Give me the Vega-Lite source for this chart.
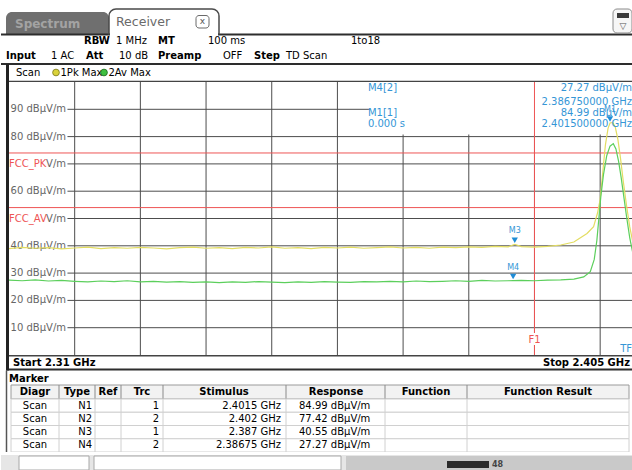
{
"$schema": "https://vega.github.io/schema/vega-lite/v6.json",
"padding": 0,
"spacing": 0,
"bounds": "flush",
"background": "white",
"resolve": {"scale": {"x": "independent", "y": "independent", "color": "independent"}},
"config": {
  "font": "DejaVu Sans",
  "view": {"stroke": null, "fill": "white"},
  "axis": {"disable": true},
  "legend": {"disable": true},
  "concat": {"spacing": 0},
  "text": {"align": "left", "baseline": "middle", "fontSize": 10},
  "style": {
    "lab": {"fontWeight": "bold", "fill": "#262626"},
    "val": {"fill": "#6a6a6a"},
    "tcell": {"fill": "#7a7a7a", "fontSize": 9.5},
    "thead": {"fontWeight": "bold", "fill": "#262626", "fontSize": 9.5, "align": "center"}
  }
},
"datasets": {
  "one": [{}],
  "markers": [
    {"m": "M1", "diagr": "Scan", "type": "N1", "trc": 1, "f": 2.4015, "level": 84.99, "stimulus": "2.4015 GHz", "response": "84.99 dBµV/m"},
    {"m": "M2", "diagr": "Scan", "type": "N2", "trc": 2, "f": 2.402, "level": 77.42, "stimulus": "2.402 GHz", "response": "77.42 dBµV/m"},
    {"m": "M3", "diagr": "Scan", "type": "N3", "trc": 1, "f": 2.387, "level": 40.55, "stimulus": "2.387 GHz", "response": "40.55 dBµV/m"},
    {"m": "M4", "diagr": "Scan", "type": "N4", "trc": 2, "f": 2.38675, "level": 27.27, "stimulus": "2.38675 GHz", "response": "27.27 dBµV/m"}
  ],
  "traces": [
    {"trace": "1Pk Max", "f": 2.310, "level": 39.0},
    {"trace": "1Pk Max", "f": 2.312, "level": 39.4},
    {"trace": "1Pk Max", "f": 2.314, "level": 39.1},
    {"trace": "1Pk Max", "f": 2.316, "level": 39.3},
    {"trace": "1Pk Max", "f": 2.318, "level": 38.9},
    {"trace": "1Pk Max", "f": 2.320, "level": 39.2},
    {"trace": "1Pk Max", "f": 2.322, "level": 39.5},
    {"trace": "1Pk Max", "f": 2.324, "level": 39.0},
    {"trace": "1Pk Max", "f": 2.326, "level": 39.3},
    {"trace": "1Pk Max", "f": 2.328, "level": 39.1},
    {"trace": "1Pk Max", "f": 2.330, "level": 39.4},
    {"trace": "1Pk Max", "f": 2.332, "level": 39.2},
    {"trace": "1Pk Max", "f": 2.334, "level": 38.9},
    {"trace": "1Pk Max", "f": 2.336, "level": 39.3},
    {"trace": "1Pk Max", "f": 2.338, "level": 39.5},
    {"trace": "1Pk Max", "f": 2.340, "level": 39.1},
    {"trace": "1Pk Max", "f": 2.342, "level": 39.3},
    {"trace": "1Pk Max", "f": 2.344, "level": 39.0},
    {"trace": "1Pk Max", "f": 2.346, "level": 39.4},
    {"trace": "1Pk Max", "f": 2.348, "level": 39.2},
    {"trace": "1Pk Max", "f": 2.350, "level": 39.6},
    {"trace": "1Pk Max", "f": 2.352, "level": 39.1},
    {"trace": "1Pk Max", "f": 2.354, "level": 39.3},
    {"trace": "1Pk Max", "f": 2.356, "level": 39.0},
    {"trace": "1Pk Max", "f": 2.358, "level": 39.4},
    {"trace": "1Pk Max", "f": 2.360, "level": 39.2},
    {"trace": "1Pk Max", "f": 2.362, "level": 39.5},
    {"trace": "1Pk Max", "f": 2.364, "level": 39.1},
    {"trace": "1Pk Max", "f": 2.366, "level": 39.3},
    {"trace": "1Pk Max", "f": 2.368, "level": 39.6},
    {"trace": "1Pk Max", "f": 2.370, "level": 39.2},
    {"trace": "1Pk Max", "f": 2.372, "level": 39.4},
    {"trace": "1Pk Max", "f": 2.374, "level": 39.1},
    {"trace": "1Pk Max", "f": 2.376, "level": 39.5},
    {"trace": "1Pk Max", "f": 2.378, "level": 39.3},
    {"trace": "1Pk Max", "f": 2.380, "level": 39.6},
    {"trace": "1Pk Max", "f": 2.382, "level": 39.4},
    {"trace": "1Pk Max", "f": 2.384, "level": 39.8},
    {"trace": "1Pk Max", "f": 2.386, "level": 39.6},
    {"trace": "1Pk Max", "f": 2.387, "level": 40.55},
    {"trace": "1Pk Max", "f": 2.388, "level": 39.7},
    {"trace": "1Pk Max", "f": 2.390, "level": 39.5},
    {"trace": "1Pk Max", "f": 2.392, "level": 39.8},
    {"trace": "1Pk Max", "f": 2.394, "level": 40.3},
    {"trace": "1Pk Max", "f": 2.396, "level": 41.4},
    {"trace": "1Pk Max", "f": 2.398, "level": 44.5},
    {"trace": "1Pk Max", "f": 2.399, "level": 47},
    {"trace": "1Pk Max", "f": 2.3996, "level": 52},
    {"trace": "1Pk Max", "f": 2.4000, "level": 57},
    {"trace": "1Pk Max", "f": 2.4004, "level": 67},
    {"trace": "1Pk Max", "f": 2.4008, "level": 77},
    {"trace": "1Pk Max", "f": 2.4012, "level": 83},
    {"trace": "1Pk Max", "f": 2.4015, "level": 84.99},
    {"trace": "1Pk Max", "f": 2.4019, "level": 85.2},
    {"trace": "1Pk Max", "f": 2.4023, "level": 83.5},
    {"trace": "1Pk Max", "f": 2.4027, "level": 79},
    {"trace": "1Pk Max", "f": 2.4031, "level": 72},
    {"trace": "1Pk Max", "f": 2.4035, "level": 64},
    {"trace": "1Pk Max", "f": 2.4040, "level": 55},
    {"trace": "1Pk Max", "f": 2.4045, "level": 47},
    {"trace": "1Pk Max", "f": 2.4050, "level": 41},
    {"trace": "2Av Max", "f": 2.310, "level": 27.4},
    {"trace": "2Av Max", "f": 2.312, "level": 27.2},
    {"trace": "2Av Max", "f": 2.314, "level": 27.5},
    {"trace": "2Av Max", "f": 2.316, "level": 27.1},
    {"trace": "2Av Max", "f": 2.318, "level": 27.3},
    {"trace": "2Av Max", "f": 2.320, "level": 27.0},
    {"trace": "2Av Max", "f": 2.322, "level": 26.8},
    {"trace": "2Av Max", "f": 2.324, "level": 27.1},
    {"trace": "2Av Max", "f": 2.326, "level": 26.9},
    {"trace": "2Av Max", "f": 2.328, "level": 27.2},
    {"trace": "2Av Max", "f": 2.330, "level": 26.8},
    {"trace": "2Av Max", "f": 2.332, "level": 27.0},
    {"trace": "2Av Max", "f": 2.334, "level": 26.7},
    {"trace": "2Av Max", "f": 2.336, "level": 26.9},
    {"trace": "2Av Max", "f": 2.338, "level": 26.6},
    {"trace": "2Av Max", "f": 2.340, "level": 26.8},
    {"trace": "2Av Max", "f": 2.342, "level": 26.5},
    {"trace": "2Av Max", "f": 2.344, "level": 26.8},
    {"trace": "2Av Max", "f": 2.346, "level": 26.6},
    {"trace": "2Av Max", "f": 2.348, "level": 26.9},
    {"trace": "2Av Max", "f": 2.350, "level": 26.7},
    {"trace": "2Av Max", "f": 2.352, "level": 26.5},
    {"trace": "2Av Max", "f": 2.354, "level": 26.8},
    {"trace": "2Av Max", "f": 2.356, "level": 26.6},
    {"trace": "2Av Max", "f": 2.358, "level": 26.9},
    {"trace": "2Av Max", "f": 2.360, "level": 26.7},
    {"trace": "2Av Max", "f": 2.362, "level": 26.6},
    {"trace": "2Av Max", "f": 2.364, "level": 26.9},
    {"trace": "2Av Max", "f": 2.366, "level": 26.8},
    {"trace": "2Av Max", "f": 2.368, "level": 27.0},
    {"trace": "2Av Max", "f": 2.370, "level": 26.8},
    {"trace": "2Av Max", "f": 2.372, "level": 27.1},
    {"trace": "2Av Max", "f": 2.374, "level": 26.9},
    {"trace": "2Av Max", "f": 2.376, "level": 27.0},
    {"trace": "2Av Max", "f": 2.378, "level": 27.2},
    {"trace": "2Av Max", "f": 2.380, "level": 27.0},
    {"trace": "2Av Max", "f": 2.382, "level": 27.3},
    {"trace": "2Av Max", "f": 2.384, "level": 27.1},
    {"trace": "2Av Max", "f": 2.386, "level": 27.2},
    {"trace": "2Av Max", "f": 2.38675, "level": 27.27},
    {"trace": "2Av Max", "f": 2.388, "level": 27.3},
    {"trace": "2Av Max", "f": 2.390, "level": 27.2},
    {"trace": "2Av Max", "f": 2.392, "level": 27.4},
    {"trace": "2Av Max", "f": 2.394, "level": 27.5},
    {"trace": "2Av Max", "f": 2.396, "level": 27.8},
    {"trace": "2Av Max", "f": 2.3975, "level": 28.6},
    {"trace": "2Av Max", "f": 2.3985, "level": 30.5},
    {"trace": "2Av Max", "f": 2.3991, "level": 35},
    {"trace": "2Av Max", "f": 2.3995, "level": 42},
    {"trace": "2Av Max", "f": 2.3998, "level": 50},
    {"trace": "2Av Max", "f": 2.4001, "level": 58},
    {"trace": "2Av Max", "f": 2.4005, "level": 66},
    {"trace": "2Av Max", "f": 2.4010, "level": 73},
    {"trace": "2Av Max", "f": 2.4015, "level": 76.5},
    {"trace": "2Av Max", "f": 2.4020, "level": 77.42},
    {"trace": "2Av Max", "f": 2.4024, "level": 75.5},
    {"trace": "2Av Max", "f": 2.4028, "level": 71},
    {"trace": "2Av Max", "f": 2.4032, "level": 65},
    {"trace": "2Av Max", "f": 2.4036, "level": 58},
    {"trace": "2Av Max", "f": 2.4040, "level": 51},
    {"trace": "2Av Max", "f": 2.4045, "level": 43},
    {"trace": "2Av Max", "f": 2.4050, "level": 37}
  ]
},
"vconcat": [
  {
    "width": 632, "height": 82,
    "data": {"name": "one"},
    "layer": [
      {"mark": {"type": "rect", "fill": "#6f6f6f", "cornerRadiusTopLeft": 6, "cornerRadiusTopRight": 6},
       "encoding": {"x": {"datum": 5, "type": "quantitative", "scale": {"domain": [0, 632], "nice": false, "zero": false}}, "x2": {"datum": 108},
                    "y": {"datum": 12, "type": "quantitative", "scale": {"domain": [0, 82], "reverse": true, "nice": false, "zero": false}}, "y2": {"datum": 34}}},
      {"mark": {"type": "text", "text": "Spectrum", "fill": "#a3a3a3", "fontWeight": "bold", "fontSize": 12}, "encoding": {"x": {"datum": 14}, "y": {"datum": 23.5}}},
      {"mark": {"type": "rule", "stroke": "#2d2d2d", "strokeWidth": 2}, "encoding": {"x": {"datum": 0}, "x2": {"datum": 632}, "y": {"datum": 34.5}}},
      {"mark": {"type": "rect", "fill": "white", "stroke": "#4a4a4a", "strokeWidth": 1.5, "cornerRadiusTopLeft": 7, "cornerRadiusTopRight": 7},
       "encoding": {"x": {"datum": 108}, "x2": {"datum": 218}, "y": {"datum": 9}, "y2": {"datum": 34}}},
      {"mark": {"type": "rule", "stroke": "white", "strokeWidth": 3}, "encoding": {"x": {"datum": 109}, "x2": {"datum": 217}, "y": {"datum": 34.5}}},
      {"mark": {"type": "text", "text": "Receiver", "fill": "#6a6a6a", "fontSize": 12.5}, "encoding": {"x": {"datum": 115}, "y": {"datum": 22}}},
      {"mark": {"type": "rect", "fill": "white", "stroke": "#6a6a6a", "strokeWidth": 1, "cornerRadius": 3}, "encoding": {"x": {"datum": 195}, "x2": {"datum": 208}, "y": {"datum": 15.5}, "y2": {"datum": 28}}},
      {"mark": {"type": "text", "text": "x", "align": "center", "fill": "#555555", "fontSize": 9}, "encoding": {"x": {"datum": 201.5}, "y": {"datum": 21.3}}},
      {"mark": {"type": "rect", "fill": "#f6f6f6", "stroke": "#8a8a8a", "strokeWidth": 1, "cornerRadius": 4}, "encoding": {"x": {"datum": 612}, "x2": {"datum": 631}, "y": {"datum": 9}, "y2": {"datum": 33}}},
      {"mark": {"type": "rect", "fill": "#3a3a3a"}, "encoding": {"x": {"datum": 616}, "x2": {"datum": 628}, "y": {"datum": 13}, "y2": {"datum": 18}}},
      {"mark": {"type": "text", "text": "▽", "align": "center", "fill": "#555555", "fontSize": 9}, "encoding": {"x": {"datum": 622}, "y": {"datum": 25.5}}},
      {"mark": {"type": "text", "style": "lab", "text": "RBW"}, "encoding": {"x": {"datum": 83}, "y": {"datum": 41}}},
      {"mark": {"type": "text", "style": "lab", "text": "MT"}, "encoding": {"x": {"datum": 157}, "y": {"datum": 41}}},
      {"mark": {"type": "text", "style": "val", "text": "1 MHz"}, "encoding": {"x": {"datum": 115}, "y": {"datum": 41}}},
      {"mark": {"type": "text", "style": "val", "text": "100 ms"}, "encoding": {"x": {"datum": 207}, "y": {"datum": 41}}},
      {"mark": {"type": "text", "style": "val", "text": "1to18"}, "encoding": {"x": {"datum": 350}, "y": {"datum": 41}}},
      {"mark": {"type": "text", "style": "lab", "text": "Input"}, "encoding": {"x": {"datum": 5}, "y": {"datum": 56}}},
      {"mark": {"type": "text", "style": "lab", "text": "Att"}, "encoding": {"x": {"datum": 85}, "y": {"datum": 56}}},
      {"mark": {"type": "text", "style": "lab", "text": "Preamp"}, "encoding": {"x": {"datum": 157}, "y": {"datum": 56}}},
      {"mark": {"type": "text", "style": "lab", "text": "Step"}, "encoding": {"x": {"datum": 253}, "y": {"datum": 56}}},
      {"mark": {"type": "text", "style": "val", "text": "1 AC"}, "encoding": {"x": {"datum": 50}, "y": {"datum": 56}}},
      {"mark": {"type": "text", "style": "val", "text": "10 dB"}, "encoding": {"x": {"datum": 118}, "y": {"datum": 56}}},
      {"mark": {"type": "text", "style": "val", "text": "OFF"}, "encoding": {"x": {"datum": 222}, "y": {"datum": 56}}},
      {"mark": {"type": "text", "style": "val", "text": "TD Scan"}, "encoding": {"x": {"datum": 285}, "y": {"datum": 56}}},
      {"mark": {"type": "rule", "stroke": "#2d2d2d", "strokeWidth": 2}, "encoding": {"x": {"datum": 0}, "x2": {"datum": 632}, "y": {"datum": 64}}},
      {"mark": {"type": "text", "style": "val", "text": "Scan"}, "encoding": {"x": {"datum": 15}, "y": {"datum": 72.5}}},
      {"mark": {"type": "point", "shape": "circle", "filled": true, "fill": "#d9d23a", "stroke": "#8c8a2a", "strokeWidth": 1, "size": 45, "opacity": 1}, "encoding": {"x": {"datum": 55}, "y": {"datum": 72.5}}},
      {"mark": {"type": "text", "style": "val", "text": "1Pk Max"}, "encoding": {"x": {"datum": 59.5}, "y": {"datum": 72.5}}},
      {"mark": {"type": "point", "shape": "circle", "filled": true, "fill": "#3fc03f", "stroke": "#2a7a2a", "strokeWidth": 1, "size": 45, "opacity": 1}, "encoding": {"x": {"datum": 103}, "y": {"datum": 72.5}}},
      {"mark": {"type": "text", "style": "val", "text": "2Av Max"}, "encoding": {"x": {"datum": 107.5}, "y": {"datum": 72.5}}},
      {"mark": {"type": "rule", "stroke": "#444444", "strokeWidth": 1.5}, "encoding": {"x": {"datum": 5}, "x2": {"datum": 632}, "y": {"datum": 81.5}}},
      {"mark": {"type": "rule", "stroke": "#222222", "strokeWidth": 3}, "encoding": {"x": {"datum": 6.5}, "y": {"datum": 64}, "y2": {"datum": 82}}}
    ]
  },
  {
    "width": 632, "height": 273,
    "data": {"name": "one"},
    "layer": [
      {"data": {"values": [{"f": 2.32}, {"f": 2.33}, {"f": 2.34}, {"f": 2.35}, {"f": 2.36}, {"f": 2.37}, {"f": 2.38}, {"f": 2.39}, {"f": 2.40}]},
       "mark": {"type": "rule", "stroke": "#4d4d4d", "strokeWidth": 1},
       "encoding": {"x": {"field": "f", "type": "quantitative", "scale": {"domain": [2.308782, 2.405], "nice": false, "zero": false}}}},
      {"data": {"values": [{"v": 10}, {"v": 20}, {"v": 30}, {"v": 40}, {"v": 50}, {"v": 60}, {"v": 70}, {"v": 80}, {"v": 90}]},
       "mark": {"type": "rule", "stroke": "#4d4d4d", "strokeWidth": 1},
       "encoding": {"x": {"datum": 2.3189}, "x2": {"datum": 2.405}, "y": {"field": "v", "type": "quantitative", "scale": {"domain": [0, 100], "nice": false, "zero": false}}}},
      {"mark": {"type": "rect", "fill": "white"}, "encoding": {"x": {"datum": 2.365}, "x2": {"datum": 2.405}, "y": {"datum": 80.8}, "y2": {"datum": 100}}},
      {"data": {"values": [{"limit": "FCC_PK", "v": 74}, {"limit": "FCC_AV", "v": 54}]},
       "layer": [
         {"mark": {"type": "rule", "stroke": "#ee5555", "strokeWidth": 1}, "encoding": {"x": {"datum": 2.31}, "x2": {"datum": 2.405}, "y": {"field": "v", "type": "quantitative"}}},
         {"mark": {"type": "text", "fill": "#ee5555", "fontSize": 10, "dy": 11}, "encoding": {"x": {"datum": 2.31}, "y": {"field": "v", "type": "quantitative"}, "text": {"field": "limit"}}}
       ]},
      {"mark": {"type": "rule", "stroke": "#ee5555", "strokeWidth": 1}, "encoding": {"x": {"datum": 2.39}}},
      {"data": {"values": [{"v": 90, "label": "90 dBµV/m"}, {"v": 80, "label": "80 dBµV/m"}, {"v": 70, "label": "V/m"}, {"v": 60, "label": "60 dBµV/m"}, {"v": 50, "label": "V/m"}, {"v": 40, "label": "40 dBµV/m"}, {"v": 30, "label": "30 dBµV/m"}, {"v": 20, "label": "20 dBµV/m"}, {"v": 10, "label": "10 dBµV/m"}]},
       "mark": {"type": "text", "align": "right", "fill": "#666666", "fontSize": 10},
       "encoding": {"x": {"datum": 2.31868}, "y": {"field": "v", "type": "quantitative"}, "text": {"field": "label"}}},
      {"data": {"name": "traces"},
       "mark": {"type": "line", "strokeWidth": 1.2},
       "encoding": {"x": {"field": "f", "type": "quantitative"}, "y": {"field": "level", "type": "quantitative"},
                    "color": {"field": "trace", "type": "nominal", "scale": {"domain": ["1Pk Max", "2Av Max"], "range": ["#e3dd62", "#5ccf5c"]}, "legend": null}}},
      {"data": {"name": "markers"},
       "transform": [{"filter": "datum.m != 'M2'"}],
       "encoding": {"x": {"field": "f", "type": "quantitative"}, "y": {"field": "level", "type": "quantitative"}},
       "layer": [
         {"mark": {"type": "point", "shape": "triangle-down", "filled": true, "fill": "#1f8dd6", "size": 40, "yOffset": -4, "opacity": 1}},
         {"mark": {"type": "text", "align": "center", "dy": -13, "fontSize": 8, "fill": "#3596d6"}, "encoding": {"text": {"field": "m"}}}
       ]},
      {"mark": {"type": "text", "fill": "#3596d6", "text": "M4[2]"}, "encoding": {"x": {"datum": 2.36465}, "y": {"datum": 97.8}}},
      {"mark": {"type": "text", "fill": "#3596d6", "text": "27.27 dBµV/m", "align": "right"}, "encoding": {"x": {"datum": 2.40485}, "y": {"datum": 97.8}}},
      {"mark": {"type": "text", "fill": "#3596d6", "text": "2.386750000 GHz", "align": "right"}, "encoding": {"x": {"datum": 2.40485}, "y": {"datum": 92.8}}},
      {"mark": {"type": "text", "fill": "#3596d6", "text": "M1[1]"}, "encoding": {"x": {"datum": 2.36465}, "y": {"datum": 88.75}}},
      {"mark": {"type": "text", "fill": "#3596d6", "text": "84.99 dBµV/m", "align": "right"}, "encoding": {"x": {"datum": 2.40485}, "y": {"datum": 88.75}}},
      {"mark": {"type": "text", "fill": "#3596d6", "text": "0.000 s"}, "encoding": {"x": {"datum": 2.36465}, "y": {"datum": 84.5}}},
      {"mark": {"type": "text", "fill": "#3596d6", "text": "2.401500000 GHz", "align": "right"}, "encoding": {"x": {"datum": 2.40485}, "y": {"datum": 84.5}}},
      {"mark": {"type": "text", "text": "F1", "align": "center", "fontSize": 10, "fill": "white", "stroke": "white", "strokeWidth": 4}, "encoding": {"x": {"datum": 2.39}, "y": {"datum": 5.5}}},
      {"mark": {"type": "text", "text": "F1", "align": "center", "fontSize": 10, "fill": "#ee5555"}, "encoding": {"x": {"datum": 2.39}, "y": {"datum": 5.5}}},
      {"mark": {"type": "text", "text": "TF", "fontSize": 10, "fill": "#3596d6", "align": "right"}, "encoding": {"x": {"datum": 2.40485}, "y": {"datum": 2.2}}},
      {"mark": {"type": "rule", "stroke": "#222222", "strokeWidth": 3}, "encoding": {"x": {"datum": 2.309772}}}
    ]
  },
  {
    "width": 632, "height": 30,
    "data": {"name": "one"},
    "layer": [
      {"mark": {"type": "text", "style": "lab", "text": "Start 2.31 GHz"},
       "encoding": {"x": {"datum": 12, "type": "quantitative", "scale": {"domain": [0, 632], "nice": false, "zero": false}},
                    "y": {"datum": 7.5, "type": "quantitative", "scale": {"domain": [0, 30], "reverse": true, "nice": false, "zero": false}}}},
      {"mark": {"type": "text", "style": "lab", "text": "Stop 2.405 GHz", "align": "right"}, "encoding": {"x": {"datum": 629}, "y": {"datum": 7.5}}},
      {"mark": {"type": "rule", "stroke": "#444444", "strokeWidth": 1.5}, "encoding": {"x": {"datum": 5}, "x2": {"datum": 632}, "y": {"datum": 0.8}}},
      {"mark": {"type": "rule", "stroke": "#2d2d2d", "strokeWidth": 2}, "encoding": {"x": {"datum": 5}, "x2": {"datum": 632}, "y": {"datum": 14.5}}},
      {"mark": {"type": "text", "style": "lab", "text": "Marker"}, "encoding": {"x": {"datum": 8}, "y": {"datum": 23.5}}},
      {"mark": {"type": "rule", "stroke": "#222222", "strokeWidth": 3}, "encoding": {"x": {"datum": 6.5}, "y": {"datum": 0}, "y2": {"datum": 15.5}}},
      {"mark": {"type": "rule", "stroke": "#555555", "strokeWidth": 1.5}, "encoding": {"x": {"datum": 5.5}, "y": {"datum": 15.5}, "y2": {"datum": 30}}}
    ]
  },
  {
    "width": 632, "height": 14,
    "data": {"name": "one"},
    "layer": [
      {"mark": {"type": "rect", "fill": "#f2f2f2", "stroke": "#9a9a9a", "strokeWidth": 1},
       "encoding": {"x": {"datum": 10, "type": "quantitative", "scale": {"domain": [0, 632], "nice": false, "zero": false}}, "x2": {"datum": 628},
                    "y": {"datum": 0, "type": "quantitative", "scale": {"domain": [0, 14], "reverse": true, "nice": false, "zero": false}}, "y2": {"datum": 14}}},
      {"mark": {"type": "rule", "stroke": "#8a8a8a"}, "encoding": {"x": {"datum": 58}}},
      {"mark": {"type": "rule", "stroke": "#8a8a8a"}, "encoding": {"x": {"datum": 94}}},
      {"mark": {"type": "rule", "stroke": "#8a8a8a"}, "encoding": {"x": {"datum": 120}}},
      {"mark": {"type": "rule", "stroke": "#8a8a8a"}, "encoding": {"x": {"datum": 162}}},
      {"mark": {"type": "rule", "stroke": "#8a8a8a"}, "encoding": {"x": {"datum": 285}}},
      {"mark": {"type": "rule", "stroke": "#8a8a8a"}, "encoding": {"x": {"datum": 384}}},
      {"mark": {"type": "rule", "stroke": "#8a8a8a"}, "encoding": {"x": {"datum": 466}}},
      {"mark": {"type": "text", "style": "thead", "text": "Diagr"}, "encoding": {"x": {"datum": 34}}},
      {"mark": {"type": "text", "style": "thead", "text": "Type"}, "encoding": {"x": {"datum": 76}}},
      {"mark": {"type": "text", "style": "thead", "text": "Ref"}, "encoding": {"x": {"datum": 107}}},
      {"mark": {"type": "text", "style": "thead", "text": "Trc"}, "encoding": {"x": {"datum": 141}}},
      {"mark": {"type": "text", "style": "thead", "text": "Stimulus"}, "encoding": {"x": {"datum": 223}}},
      {"mark": {"type": "text", "style": "thead", "text": "Response"}, "encoding": {"x": {"datum": 335}}},
      {"mark": {"type": "text", "style": "thead", "text": "Function"}, "encoding": {"x": {"datum": 425}}},
      {"mark": {"type": "text", "style": "thead", "text": "Function Result"}, "encoding": {"x": {"datum": 547}}},
      {"mark": {"type": "rule", "stroke": "#555555", "strokeWidth": 1.5}, "encoding": {"x": {"datum": 5.5}}}
    ]
  },
  {
    "width": 632, "height": 53,
    "data": {"name": "one"},
    "layer": [
      {"data": {"name": "markers"},
       "mark": {"type": "rect", "fill": "white", "stroke": "#d0d0d0", "strokeWidth": 1},
       "encoding": {"x": {"datum": 10, "type": "quantitative", "scale": {"domain": [0, 632], "nice": false, "zero": false}}, "x2": {"datum": 628},
                    "y": {"field": "type", "type": "ordinal", "scale": {"type": "band", "domain": ["N1", "N2", "N3", "N4"], "paddingInner": 0, "paddingOuter": 0}}}},
      {"mark": {"type": "rule", "stroke": "#d0d0d0"}, "encoding": {"x": {"datum": 58}}},
      {"mark": {"type": "rule", "stroke": "#d0d0d0"}, "encoding": {"x": {"datum": 94}}},
      {"mark": {"type": "rule", "stroke": "#d0d0d0"}, "encoding": {"x": {"datum": 120}}},
      {"mark": {"type": "rule", "stroke": "#d0d0d0"}, "encoding": {"x": {"datum": 162}}},
      {"mark": {"type": "rule", "stroke": "#d0d0d0"}, "encoding": {"x": {"datum": 285}}},
      {"mark": {"type": "rule", "stroke": "#d0d0d0"}, "encoding": {"x": {"datum": 384}}},
      {"mark": {"type": "rule", "stroke": "#d0d0d0"}, "encoding": {"x": {"datum": 466}}},
      {"data": {"name": "markers"}, "mark": {"type": "text", "style": "tcell", "align": "center"},
       "encoding": {"x": {"datum": 34}, "y": {"field": "type", "type": "ordinal", "scale": {"type": "band"}}, "text": {"field": "diagr"}}},
      {"data": {"name": "markers"}, "mark": {"type": "text", "style": "tcell", "align": "right"},
       "encoding": {"x": {"datum": 91}, "y": {"field": "type", "type": "ordinal", "scale": {"type": "band"}}, "text": {"field": "type"}}},
      {"data": {"name": "markers"}, "mark": {"type": "text", "style": "tcell", "align": "right"},
       "encoding": {"x": {"datum": 158}, "y": {"field": "type", "type": "ordinal", "scale": {"type": "band"}}, "text": {"field": "trc"}}},
      {"data": {"name": "markers"}, "mark": {"type": "text", "style": "tcell", "align": "right"},
       "encoding": {"x": {"datum": 280}, "y": {"field": "type", "type": "ordinal", "scale": {"type": "band"}}, "text": {"field": "stimulus"}}},
      {"data": {"name": "markers"}, "mark": {"type": "text", "style": "tcell", "align": "left"},
       "encoding": {"x": {"datum": 298}, "y": {"field": "type", "type": "ordinal", "scale": {"type": "band"}}, "text": {"field": "response"}}},
      {"mark": {"type": "rule", "stroke": "#555555", "strokeWidth": 1.5}, "encoding": {"x": {"datum": 5.5}}}
    ]
  },
  {
    "width": 632, "height": 18,
    "data": {"name": "one"},
    "layer": [
      {"mark": {"type": "rect", "fill": "#e6e6e6"},
       "encoding": {"x": {"datum": 0, "type": "quantitative", "scale": {"domain": [0, 632], "nice": false, "zero": false}}, "x2": {"datum": 632},
                    "y": {"datum": 3, "type": "quantitative", "scale": {"domain": [0, 18], "reverse": true, "nice": false, "zero": false}}, "y2": {"datum": 18}}},
      {"mark": {"type": "rect", "fill": "white", "stroke": "#a8a8a8"}, "encoding": {"x": {"datum": 18}, "x2": {"datum": 88}, "y": {"datum": 4}, "y2": {"datum": 18}}},
      {"mark": {"type": "rect", "fill": "white", "stroke": "#a8a8a8"}, "encoding": {"x": {"datum": 93}, "x2": {"datum": 340}, "y": {"datum": 4}, "y2": {"datum": 18}}},
      {"mark": {"type": "rect", "fill": "#c9c9c9"}, "encoding": {"x": {"datum": 345}, "x2": {"datum": 632}, "y": {"datum": 4}, "y2": {"datum": 18}}},
      {"mark": {"type": "rect", "fill": "#2b2b2b"}, "encoding": {"x": {"datum": 446}, "x2": {"datum": 488}, "y": {"datum": 9}, "y2": {"datum": 16}}},
      {"mark": {"type": "text", "text": "48", "fill": "#444444", "fontSize": 8, "fontWeight": "bold"}, "encoding": {"x": {"datum": 491}, "y": {"datum": 12.5}}}
    ]
  }
]
}
